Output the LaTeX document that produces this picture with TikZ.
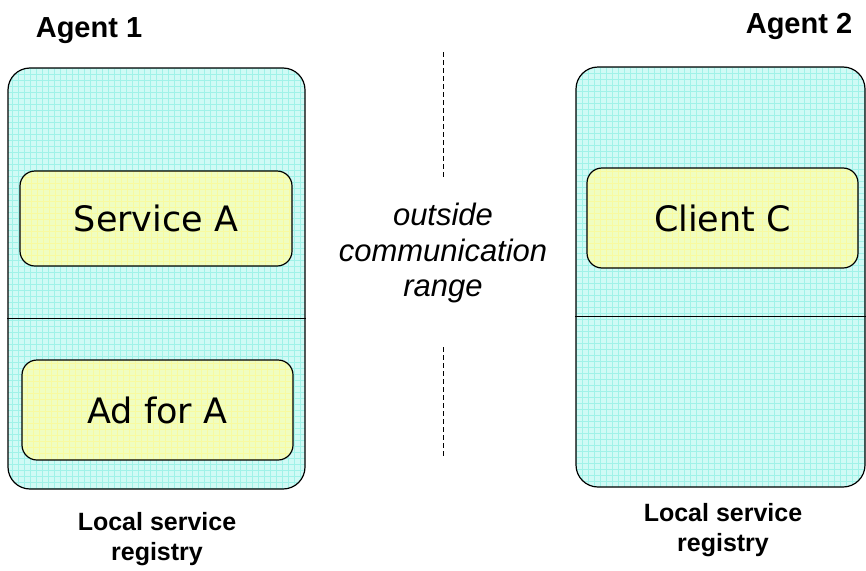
\documentclass[tikz,border=0pt]{standalone}
\usepackage{fontspec}
\setmainfont{Liberation Sans}
\newfontfamily\boxfont{DejaVu Sans}
\definecolor{regfill}{RGB}{208,250,245}
\definecolor{reggrid}{RGB}{160,242,232}
\definecolor{itemfill}{RGB}{240,253,192}
\definecolor{itemgrid}{RGB}{248,250,160}
\tikzset{
  registry/.style={draw=black, line width=1.2pt, rounded corners=22pt, fill=regfill,
    path picture={\draw[reggrid, line width=0.6pt, step=6pt]
      (path picture bounding box.south west) grid (path picture bounding box.north east);}},
  item/.style={draw=black, line width=1.2pt, rounded corners=15pt, fill=itemfill,
    font=\boxfont\fontsize{35}{38}\selectfont,
    path picture={\draw[itemgrid, line width=0.6pt, step=6pt]
      (path picture bounding box.south west) grid (path picture bounding box.north east);}},
  agentlabel/.style={font=\bfseries\fontsize{29}{32}\selectfont, anchor=base},
  reglabel/.style={font=\bfseries\fontsize{25}{30}\selectfont, align=center, anchor=base},
  rangelabel/.style={font=\itshape\fontsize{31}{35.5}\selectfont, align=center},
  divider/.style={line width=1pt},
  rangeline/.style={line width=1pt, dash pattern=on 5pt off 3pt}
}
\begin{document}
\begin{tikzpicture}[x=1pt, y=-1pt]
\useasboundingbox (0,0) rectangle (866,570);

% agent 1
\node[registry, minimum width=297pt, minimum height=421pt] (reg1) at (156.5,278.5) {};
\draw[divider] (reg1.west |- 0,318) coordinate (d1a) -- (reg1.east |- 0,318) coordinate (d1b);
\node[item, minimum width=272pt, minimum height=95pt] (svcA) at (156,218.5) {Service A};
\node[item, minimum width=271pt, minimum height=100pt] (adA) at (157.5,410) {Ad for A};
\node[agentlabel] (ag1) at (89,37) {Agent 1};
\node[reglabel] (loc1) at (157,560) {Local service\\registry};

% agent 2
\node[registry, minimum width=289pt, minimum height=420pt] (reg2) at (720.5,277) {};
\draw[divider] (reg2.west |- 0,316) coordinate (d2a) -- (reg2.east |- 0,316) coordinate (d2b);
\node[item, minimum width=271pt, minimum height=100pt] (cliC) at (722.5,218) {Client C};
\node[agentlabel] (ag2) at (799,33) {Agent 2};
\node[reglabel] (loc2) at (723,551) {Local service\\registry};

% range boundary
\node[rangelabel] (range) at (443,253) {outside\\communication\\range};
\coordinate (r1) at (443,52);
\coordinate (r2) at (443,177);
\coordinate (r3) at (443,347);
\coordinate (r4) at (443,456);
\draw[rangeline] (r1) -- (r2);
\draw[rangeline] (r3) -- (r4);
\end{tikzpicture}
\end{document}
